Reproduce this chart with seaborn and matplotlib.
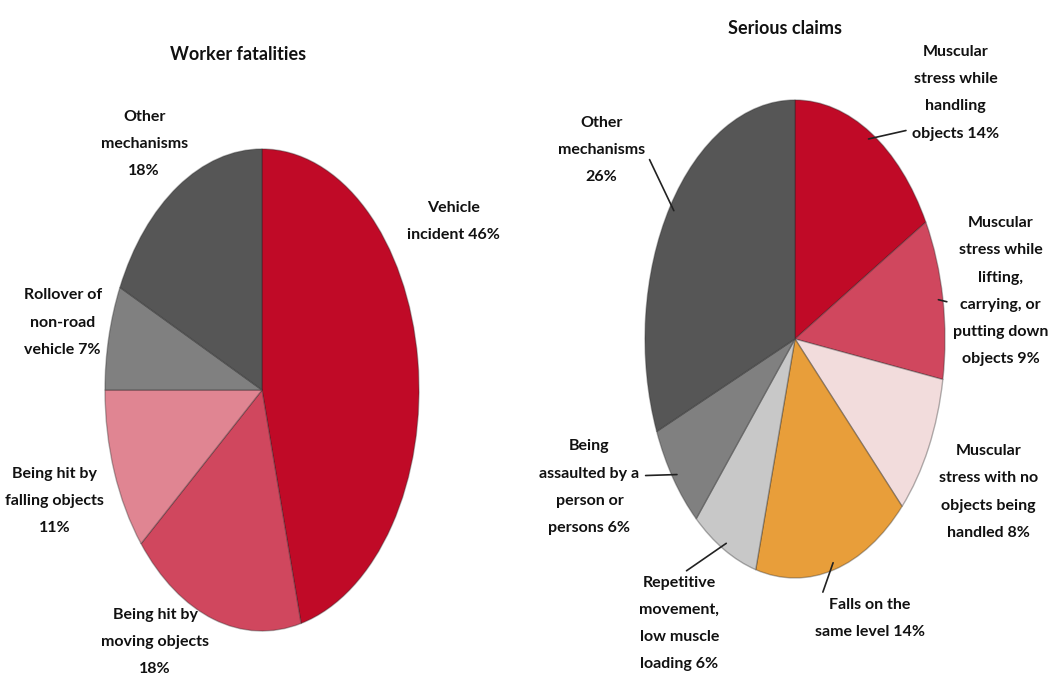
import numpy as np
import matplotlib.pyplot as plt
import seaborn as sns

# Data
fatal_labels = ['Vehicle\nincident 46%', 'Being hit by\nmoving objects\n18%',
                'Being hit by\nfalling objects\n11%', 'Rollover of\nnon-road\nvehicle 7%',
                'Other\nmechanisms\n18%']
fatal_values = [46, 18, 11, 7, 18]

claims_labels = ['Muscular\nstress while\nhandling\nobjects 14%',
                 'Muscular\nstress while\nlifting,\ncarrying, or\nputting down\nobjects 9%',
                 'Muscular\nstress with no\nobjects being\nhandled 8%',
                 'Falls on the\nsame level 14%',
                 'Repetitive\nmovement,\nlow muscle\nloading 6%',
                 'Being\nassaulted by a\nperson or\npersons 6%',
                 'Other\nmechanisms\n26%']
claims_values = [14, 9, 8, 14, 6, 6, 26]

fatal_colors = ['#C00A27', '#D0475E', '#E08592', '#808080', '#565656']
claims_colors = ['#C00A27', '#D0475E', '#F2DCDC', '#E89E3A', '#C8C8C8', '#808080', '#565656']

# label positions (axes data units, pie radius = 1)
fatal_text_pos = [(1.22, 0.70), (-0.68, -1.045), (-1.32, -0.46), (-1.27, 0.28), (-0.75, 1.02)]
claims_text_pos = [(1.07, 1.03), (1.37, 0.20), (1.29, -0.64), (0.50, -1.17),
                   (-0.77, -1.19), (-1.37, -0.62), (-1.29, 0.79)]
# where the leader line leaves the label box (None = no leader)
claims_relpos = [(0.0, 0.12), (0.0, 0.42), None, (0.02, 0.75),
                 (0.5, 1.0), (1.0, 0.62), (1.0, 0.5)]

sns.set_theme(style='white')
plt.rcParams['font.family'] = ['Liberation Sans Narrow', 'Lato', 'DejaVu Sans']
plt.rcParams['font.weight'] = 'bold'

fig = plt.figure(figsize=(10.51, 6.84), dpi=100)
fig.patch.set_facecolor('white')

W, H = 1051, 684
ax1 = fig.add_axes([105 / W, 1 - 631 / H, 314 / W, 482 / H])
ax2 = fig.add_axes([645 / W, 1 - 578 / H, 300 / W, 478 / H])

wedge_style = dict(edgecolor=(0.15, 0.15, 0.15, 0.35), linewidth=1.0)
txt_style = dict(ha='center', va='center', fontsize=11.5, fontweight='bold',
                 linespacing=2.2, color='#111111')


def draw_pie(ax, values, colors):
    wedges, _ = ax.pie(values, colors=colors, startangle=90, counterclock=False,
                       wedgeprops=wedge_style)
    ax.set_aspect('auto')
    ax.set_xlim(-1, 1)
    ax.set_ylim(-1, 1)
    ax.axis('off')
    return wedges


w1 = draw_pie(ax1, fatal_values, fatal_colors)
for lab, pos in zip(fatal_labels, fatal_text_pos):
    ax1.text(pos[0], pos[1], lab, clip_on=False, **txt_style)

w2 = draw_pie(ax2, claims_values, claims_colors)
for w, lab, pos, rel in zip(w2, claims_labels, claims_text_pos, claims_relpos):
    if rel is not None:
        ang = np.deg2rad((w.theta1 + w.theta2) / 2)
        anchor = (0.97 * np.cos(ang), 0.97 * np.sin(ang))
        ax2.annotate(lab, xy=anchor, xytext=pos, annotation_clip=False,
                     arrowprops=dict(arrowstyle='-', color='#222222', lw=1.2,
                                     relpos=rel, shrinkA=2, shrinkB=0), **txt_style)
    else:
        ax2.text(pos[0], pos[1], lab, clip_on=False, **txt_style)

fig.text(238 / W, 1 - 55 / H, 'Worker fatalities', ha='center', va='center',
         fontsize=13, fontweight='bold', color='#111111')
fig.text(785 / W, 1 - 28 / H, 'Serious claims', ha='center', va='center',
         fontsize=13, fontweight='bold', color='#111111')

fig.savefig('out.png', dpi=100, facecolor='white')
